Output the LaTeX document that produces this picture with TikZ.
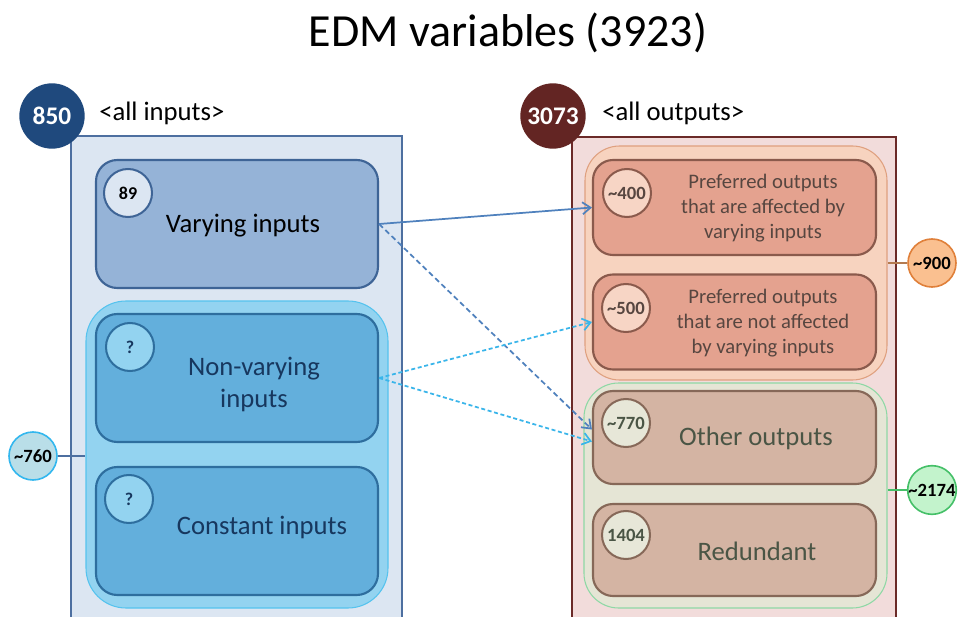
\documentclass[tikz,border=0pt]{standalone}
\usepackage{fontspec}
\setmainfont{Carlito}
\usetikzlibrary{arrows.meta}
\definecolor{lbg}{HTML}{DCE6F2}
\definecolor{lbd}{HTML}{4D6FA0}
\definecolor{varf}{HTML}{95B3D7}
\definecolor{vard}{HTML}{3E6496}
\definecolor{navy}{HTML}{1F497D}
\definecolor{grpf}{HTML}{93D3F0}
\definecolor{grpd}{HTML}{55C3EE}
\definecolor{nvf}{HTML}{63AFDC}
\definecolor{nvd}{HTML}{2E6E9E}
\definecolor{nvt}{HTML}{17375E}
\definecolor{c76f}{HTML}{B9DEE8}
\definecolor{c76d}{HTML}{33B7EE}
\definecolor{rbg}{HTML}{F2DCDB}
\definecolor{rbd}{HTML}{6B2A28}
\definecolor{maroon}{HTML}{632523}
\definecolor{ogf}{HTML}{F7D3BF}
\definecolor{ogd}{HTML}{DFA07F}
\definecolor{pf}{HTML}{E4A28F}
\definecolor{pd}{HTML}{8A5A4C}
\definecolor{pcf}{HTML}{F7D5C5}
\definecolor{ptxt}{HTML}{574640}
\definecolor{c9f}{HTML}{FAC090}
\definecolor{c9d}{HTML}{E0803A}
\definecolor{c9l}{HTML}{B47B50}
\definecolor{ggf}{HTML}{E5E5D5}
\definecolor{ggd}{HTML}{8ED8A5}
\definecolor{of}{HTML}{D4B4A3}
\definecolor{od}{HTML}{866858}
\definecolor{ocf}{HTML}{E7E7D8}
\definecolor{otxt}{HTML}{4A5545}
\definecolor{c21f}{HTML}{C3F3CC}
\definecolor{c21d}{HTML}{45C068}
\definecolor{arrs}{HTML}{4F81BD}
\definecolor{arrl}{HTML}{39B5EA}
\tikzset{
  bigbox/.style={rectangle, draw, line width=1.9pt, inner sep=0pt, minimum width=#1},
  rbox/.style={rectangle, rounded corners=16pt, draw, line width=1.6pt, inner sep=0pt},
  grpbox/.style={rectangle, draw, line width=0.8pt, inner sep=0pt},
  numc/.style={circle, draw, line width=1.5pt, inner sep=0pt, minimum size=36pt, font=\fontsize{14}{16}\selectfont\bfseries},
  smallnum/.style={numc, font=\fontsize{13.5}{15}\selectfont\bfseries},
  bignum/.style={circle, inner sep=0pt, minimum size=49pt, text=white, font=\fontsize{19}{22}\selectfont\bfseries},
  hdr/.style={anchor=west, inner sep=0pt, font=\fontsize{20}{24}\selectfont},
  boxtxt/.style={align=center, inner sep=0pt, font=\fontsize{20}{24}\selectfont},
  preftxt/.style={align=center, inner sep=0pt, text=ptxt, font=\fontsize{15.5}{19}\selectfont},
  arr/.style={-{Straight Barb[length=6pt,width=9pt]}, line width=1.3pt},
}
\begin{document}
\begin{tikzpicture}[x=0.75pt,y=-0.75pt]
\clip (0,0) rectangle (958,617);
\fill[white] (0,0) rectangle (958,617);
% title
\node[inner sep=0pt, font=\fontsize{34.5}{40}\selectfont] (title) at (508,33) {EDM variables (3923)};
% ---------- left side ----------
\node[bigbox=248.25pt, minimum height=367.5pt, draw=lbd, fill=lbg] (lbig) at (236.5,381) {};
\node[bignum, fill=navy] (c850) at (52,116) {850};
\node[hdr] (lhdr) at (99,113) {<all inputs>};
\node[rbox, draw=vard, fill=varf, minimum width=211.5pt, minimum height=96pt] (vary) at (237,224) {};
\node[smallnum, draw=vard, fill=lbg] (c89) at (128,193) {89};
\node[boxtxt] (varyt) at (243,226) {Varying inputs};
\node[grpbox, rounded corners=30pt, draw=grpd, fill=grpf, minimum width=226.5pt, minimum height=230.25pt] (gl) at (237,454.5) {};
\node[rbox, draw=nvd, fill=nvf, minimum width=211.5pt, minimum height=96pt] (nonv) at (237,378) {};
\node[smallnum, draw=nvd, fill=grpf, text=nvt] (cq1) at (130,347) {?};
\node[boxtxt, text=nvt] (nonvt) at (254,384) {Non-varying\\inputs};
\node[rbox, draw=nvd, fill=nvf, minimum width=211.5pt, minimum height=96pt] (const) at (237,531) {};
\node[smallnum, draw=nvd, fill=grpf, text=nvt] (cq2) at (129,499) {?};
\node[boxtxt, text=nvt] (constt) at (262,527) {Constant inputs};
\node[numc, draw=c76d, fill=c76f, line width=1.2pt] (c760) at (33,456) {\textasciitilde 760};
\draw[lbd, line width=1.2pt] (c760) -- (c760 -| gl.west);
% ---------- right side ----------
\node[bigbox=243pt, minimum height=366.75pt, draw=rbd, fill=rbg] (rbig) at (734,381.5) {};
\node[bignum, fill=maroon] (c3073) at (553,116) {3073};
\node[hdr] (rhdr) at (602,113) {<all outputs>};
\node[grpbox, rounded corners=26pt, draw=ogd, fill=ogf, minimum width=226.5pt, minimum height=175.5pt] (og) at (736,263) {};
\node[rbox, rounded corners=15pt, draw=pd, fill=pf, minimum width=212.25pt, minimum height=71.25pt] (b400) at (734.5,207.5) {};
\node[numc, draw=pd, fill=pcf, text=ptxt] (c400) at (627,193) {\textasciitilde 400};
\node[preftxt] (t400) at (763,208) {Preferred outputs\\that are affected by\\varying inputs};
\node[rbox, rounded corners=15pt, draw=pd, fill=pf, minimum width=212.25pt, minimum height=71.25pt] (b500) at (734.5,322) {};
\node[numc, draw=pd, fill=pcf, text=ptxt] (c500) at (626,308) {\textasciitilde 500};
\node[preftxt] (t500) at (763,323) {Preferred outputs\\that are not affected\\by varying inputs};
\node[numc, draw=c9d, fill=c9f, line width=1.2pt] (c900) at (932,263) {\textasciitilde 900};
\draw[c9l, line width=1.2pt] (og.east) -- (c900);
\node[grpbox, rounded corners=26pt, draw=ggd, fill=ggf, minimum width=227.25pt, minimum height=168.75pt] (gg) at (735.5,495.5) {};
\node[rbox, rounded corners=15pt, draw=od, fill=of, minimum width=212.25pt, minimum height=69.75pt] (b770) at (734.5,437.5) {};
\node[numc, draw=od, fill=ocf, text=otxt] (c770) at (626,423) {\textasciitilde 770};
\node[boxtxt, text=otxt] (t770) at (756,438) {Other outputs};
\node[rbox, rounded corners=15pt, draw=od, fill=of, minimum width=212.25pt, minimum height=69pt] (b1404) at (734.5,550) {};
\node[numc, draw=od, fill=ocf, text=otxt] (c1404) at (626,535) {1404};
\node[boxtxt, text=otxt] (t1404) at (757,551) {Redundant};
\node[numc, draw=c21d, fill=c21f, line width=1.2pt] (c2174) at (932,490) {\textasciitilde 2174};
\draw[c21d, line width=1.2pt] (c2174) -- (c2174 -| gg.east);
% ---------- connectors ----------
\draw[arr, arrs] (vary.east) -- (b400.west);
\draw[arr, arrs, dashed, dash pattern=on 4pt off 2.5pt] (vary.east) -- ([yshift=6pt]b770.west);
\draw[arr, arrl, dashed, dash pattern=on 3pt off 2pt] (nonv.east) -- (b500.west);
\draw[arr, arrl, dashed, dash pattern=on 3pt off 2pt] (nonv.east) -- ([yshift=-3pt]b770.west);
\end{tikzpicture}
\end{document}
